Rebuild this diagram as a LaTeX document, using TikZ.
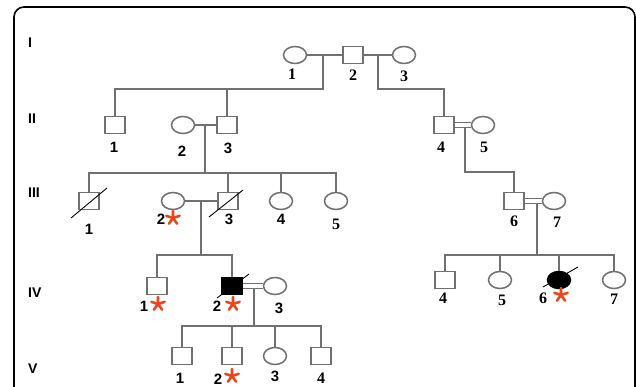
\documentclass[tikz,border=0pt]{standalone}
\usepackage{fontspec}
\setmainfont{Liberation Serif}
\newfontfamily\sa{Liberation Sans}
\usetikzlibrary{shapes.geometric,calc}
\definecolor{lc}{HTML}{707070}
\definecolor{st}{HTML}{E8461E}
\newcommand\redstar[2]{\draw[st,line width=2.6pt,line cap=round] (#1,#2) -- ++(270:7) (#1,#2) -- ++(342:7) (#1,#2) -- ++(54:7) (#1,#2) -- ++(126:7) (#1,#2) -- ++(198:7);}
\begin{document}
\begin{tikzpicture}[x=1pt,y=-1pt,
 ln/.style={draw=lc,line width=1.6pt},
 dl/.style={draw=lc,line width=1.3pt},
 sq/.style={rectangle,draw=lc,line width=1.5pt,minimum width=20pt,minimum height=17pt,inner sep=0pt,fill=white},
 ci/.style={ellipse,draw=lc,line width=1.5pt,minimum width=23pt,minimum height=17pt,inner sep=0pt,fill=white},
 aff/.style={fill=black,draw=black},
 nr/.style={font=\fontsize{16}{16}\selectfont\bfseries,inner sep=0pt},
 ns/.style={font=\sa\fontsize{15}{15}\selectfont\bfseries,inner sep=0pt},
 gen/.style={font=\sa\fontsize{14}{14}\selectfont\bfseries,inner sep=0pt,anchor=west},
 sl/.style={draw=black,line width=0.9pt}]
\useasboundingbox (0,0) rectangle (636,386);
\fill[white] (0,0) rectangle (636,386);
\draw[line width=1.6pt,rounded corners=10pt] (14,7) rectangle (635,410);
% generation labels
\node[gen] (gI) at (28,43) {I};
\node[gen] (gII) at (28,119) {II};
\node[gen] (gIII) at (28,193) {III};
\node[gen] (gIV) at (28,293) {IV};
\node[gen] (gV) at (28,369) {V};
% Gen I
\node[ci] (I1) at (295,55) {};
\node[sq] (I2) at (353,55) {};
\node[ci] (I3) at (404,55) {};
% Gen II
\node[sq] (II1) at (115,125) {};
\node[ci] (II2) at (183,125) {};
\node[sq] (II3) at (227,125) {};
\node[sq] (II4) at (444,125) {};
\node[ci] (II5) at (483,125) {};
% Gen III
\node[sq] (III1) at (89,201) {};
\node[ci] (III2) at (173,201) {};
\node[sq] (III3) at (228,201) {};
\node[ci] (III4) at (281,201) {};
\node[ci] (III5) at (336,201) {};
\node[sq] (III6) at (514,201) {};
\node[ci] (III7) at (554,201) {};
% Gen IV
\node[sq] (IV1) at (157,286) {};
\node[sq,aff] (IV2) at (232,286) {};
\node[ci] (IV3) at (275,286) {};
\node[sq] (IV4) at (445,280) {};
\node[ci] (IV5) at (500,280) {};
\node[ci,aff] (IV6) at (559,280) {};
\node[ci] (IV7) at (614,280) {};
% Gen V
\node[sq] (V1) at (182,356) {};
\node[sq] (V2) at (232,356) {};
\node[ci] (V3) at (275,356) {};
\node[sq] (V4) at (321,356) {};
% connectors
\draw[ln] (I1) -- (I2);
\draw[ln] (I2) -- (I3);
\coordinate (d1) at (323,55); \coordinate (d1b) at (323,89);
\draw[ln] (d1) -- (d1b) -| (II1);
\draw[ln] (d1b) -| (II3);
\coordinate (d2) at (378,55); \coordinate (d2b) at (378,89);
\draw[ln] (d2) -- (d2b) -| (II4);
\draw[ln] (II2) -- (II3);
\coordinate (d3) at (205,125); \coordinate (d3b) at (205,173);
\draw[ln] (d3) -- (d3b);
\draw[ln] (d3b) -| (III1);
\draw[ln] (d3b) -| (III3);
\draw[ln] (d3b) -| (III4);
\draw[ln] (d3b) -| (III5);
\draw[dl] ($(II4.east)+(0,-2.2)$) -- ($(II5.west)+(0,-2.2)$);
\draw[dl] ($(II4.east)+(0,2.2)$) -- ($(II5.west)+(0,2.2)$);
\coordinate (d4) at (465,127.2); \coordinate (d4b) at (465,172);
\draw[ln] (d4) -- (d4b) -| (III6);
\draw[ln] (III2) -- (III3);
\coordinate (d5) at (201,201); \coordinate (d5b) at (201,255);
\draw[ln] (d5) -- (d5b);
\draw[ln] (d5b) -| (IV1);
\draw[ln] (d5b) -| (IV2);
\draw[dl] ($(III6.east)+(0,-2.2)$) -- ($(III7.west)+(0,-2.2)$);
\draw[dl] ($(III6.east)+(0,2.2)$) -- ($(III7.west)+(0,2.2)$);
\coordinate (d6) at (537,203.2); \coordinate (d6b) at (537,255);
\draw[ln] (d6) -- (d6b);
\draw[ln] (d6b) -| (IV4);
\draw[ln] (d6b) -| (IV5);
\draw[ln] (d6b) -| (IV6);
\draw[ln] (d6b) -| (IV7);
\draw[dl] ($(IV2.east)+(0,-2.2)$) -- ($(IV3.west)+(0,-2.2)$);
\draw[dl] ($(IV2.east)+(0,2.2)$) -- ($(IV3.west)+(0,2.2)$);
\coordinate (d7) at (254,288.2); \coordinate (d7b) at (254,326);
\draw[ln] (d7) -- (d7b);
\draw[ln] (d7b) -| (V1);
\draw[ln] (d7b) -| (V2);
\draw[ln] (d7b) -| (V3);
\draw[ln] (d7b) -| (V4);
% deceased slashes
\draw[sl] (71,218) -- (107,188);
\draw[sl] (209,217) -- (243,190);
\draw[sl] (217,298) -- (249,274);
\draw[sl] (543,287) -- (578,267);
% labels
\node[nr] (lI1) at (292,74) {1};
\node[nr] (lI2) at (353,75) {2};
\node[nr] (lI3) at (404,76) {3};
\node[ns] (lII1) at (114,147) {1};
\node[ns] (lII2) at (182,151) {2};
\node[ns] (lII3) at (228,148) {3};
\node[nr] (lII4) at (441,147) {4};
\node[nr] (lII5) at (484,147) {5};
\node[ns] (lIII1) at (89,229) {1};
\node[ns] (lIII2) at (161,219) {2};
\node[ns] (lIII3) at (229,219) {3};
\node[ns] (lIII4) at (281,219) {4};
\node[nr] (lIII5) at (336,224) {5};
\node[nr] (lIII6) at (514,221) {6};
\node[nr] (lIII7) at (557,222) {7};
\node[ns] (lIV1) at (144,306) {1};
\node[ns] (lIV2) at (217,306) {2};
\node[ns] (lIV3) at (279,308) {3};
\node[nr] (lIV4) at (443,298) {4};
\node[nr] (lIV5) at (502,300) {5};
\node[nr] (lIV6) at (543,298) {6};
\node[nr] (lIV7) at (614,299) {7};
\node[ns] (lV1) at (180,378) {1};
\node[ns] (lV2) at (218,379) {2};
\node[ns] (lV3) at (275,376) {3};
\node[nr] (lV4) at (321,378) {4};
% stars
\redstar{173}{218}
\redstar{158}{304}
\redstar{233}{304}
\redstar{232}{376}
\redstar{561}{295}
\end{tikzpicture}
\end{document}
